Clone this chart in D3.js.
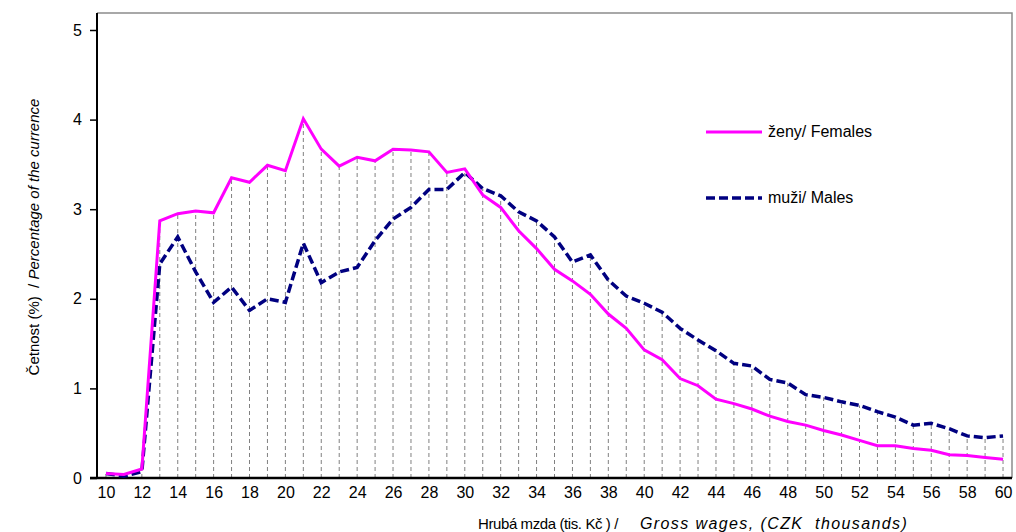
<!DOCTYPE html>
<html>
<head>
<meta charset="utf-8">
<script src="https://cdn.jsdelivr.net/npm/d3@7"></script>
<style>
  html, body { margin: 0; padding: 0; background: #fff; }
  svg { display: block; font-family: "Liberation Sans", Arial, sans-serif; }
</style>
</head>
<body>
<svg id="chart" width="1016" height="532"></svg>
<script>
// ---- data ----
const wages = d3.range(10, 61); // categories 10..60 (CZK thousands)
const females = [0.05, 0.04, 0.10, 2.87, 2.95, 2.98, 2.96, 3.35, 3.30, 3.49,
                 3.43, 4.01, 3.67, 3.48, 3.58, 3.54, 3.67, 3.66, 3.64, 3.41,
                 3.45, 3.16, 3.02, 2.76, 2.56, 2.33, 2.20, 2.05, 1.83, 1.67,
                 1.43, 1.32, 1.11, 1.03, 0.88, 0.83, 0.77, 0.69, 0.63, 0.59,
                 0.53, 0.48, 0.42, 0.36, 0.36, 0.33, 0.31, 0.26, 0.25, 0.23, 0.21];
const males   = [0.05, 0.02, 0.07, 2.39, 2.69, 2.30, 1.96, 2.13, 1.87, 2.00,
                 1.96, 2.62, 2.18, 2.30, 2.35, 2.65, 2.89, 3.02, 3.22, 3.22,
                 3.41, 3.23, 3.15, 2.97, 2.87, 2.69, 2.41, 2.49, 2.21, 2.03,
                 1.95, 1.85, 1.67, 1.54, 1.42, 1.28, 1.25, 1.10, 1.06, 0.93,
                 0.90, 0.85, 0.81, 0.74, 0.68, 0.59, 0.61, 0.55, 0.47, 0.45, 0.47];
const yTicks = [0, 1, 2, 3, 4, 5];
const xTickLabels = d3.range(10, 61, 2);

const svg = d3.select("#chart");
const pL = 97, pR = 1012, pT = 13, pB = 478;

const x = d3.scalePoint().domain(wages).range([pL, pR]).padding(0.5);
const y = d3.scaleLinear().domain([0, 5]).range([pB, 30]);

// frame (top and right gray)
svg.append("path")
  .attr("d", `M${pL},${pT}H${pR}V${pB}`)
  .attr("fill", "none").attr("stroke", "#8c8c8c").attr("stroke-width", 1.5);

// drop lines
svg.append("g").selectAll("line").data(wages).join("line")
  .attr("x1", d => x(d)).attr("x2", d => x(d))
  .attr("y1", pB)
  .attr("y2", (d, i) => y(Math.max(females[i], males[i])))
  .attr("stroke", "#808080").attr("stroke-width", 1)
  .attr("stroke-dasharray", "4,3");

// y axis
const yAxis = svg.append("g").attr("transform", `translate(${pL},0)`)
  .call(d3.axisLeft(y).tickValues(yTicks).tickSize(7).tickPadding(8).tickFormat(d3.format("d")));
yAxis.select(".domain").attr("d", `M0,${pT}V${pB}`).attr("stroke", "#000").attr("stroke-width", 2);
yAxis.selectAll(".tick line").attr("stroke", "#000").attr("stroke-width", 1.5);
yAxis.selectAll(".tick text").attr("font-size", 16).attr("fill", "#000")
  .attr("font-family", "Liberation Sans, Arial, sans-serif");

// x axis
const xAxis = svg.append("g").attr("transform", `translate(0,${pB})`)
  .call(d3.axisBottom(x).tickValues(xTickLabels).tickSize(0).tickPadding(9));
xAxis.select(".domain").attr("d", `M${pL - 7},0H${pR}`).attr("stroke", "#000").attr("stroke-width", 2.5);
xAxis.selectAll(".tick text").attr("font-size", 16).attr("fill", "#000")
  .attr("font-family", "Liberation Sans, Arial, sans-serif");

// lines
const line = arr => d3.line().x((d, i) => x(wages[i])).y(d => y(d))(arr);
svg.append("path").attr("d", line(males))
  .attr("fill", "none").attr("stroke", "#000080").attr("stroke-width", 3.5)
  .attr("stroke-dasharray", "9,4");
svg.append("path").attr("d", line(females))
  .attr("fill", "none").attr("stroke", "#ff00ff").attr("stroke-width", 3);

// legend
const legend = [
  {name: "ženy/ Females", color: "#ff00ff", dash: null, w: 3, yy: 132},
  {name: "muži/ Males", color: "#000080", dash: "9,4", w: 3.5, yy: 198}
];
const lg = svg.append("g");
legend.forEach(l => {
  lg.append("line").attr("x1", 706).attr("x2", 762).attr("y1", l.yy).attr("y2", l.yy)
    .attr("stroke", l.color).attr("stroke-width", l.w)
    .attr("stroke-dasharray", l.dash);
  lg.append("text").attr("x", 768).attr("y", l.yy + 5).attr("font-size", 16)
    .attr("fill", "#000").text(l.name);
});

// x axis title
const xt = svg.append("text").attr("y", 529).attr("font-size", 15).attr("fill", "#000");
xt.append("tspan").attr("x", 478).attr("letter-spacing", -0.4).text("Hrubá mzda (tis. Kč ) /");
xt.append("tspan").attr("x", 640).attr("font-style", "italic").attr("font-size", 16)
  .attr("letter-spacing", 1.4).text("Gross wages, (CZK  thousands)")
  .attr("style", "white-space: pre");

// y axis title
const yt = svg.append("text")
  .attr("transform", "translate(39,237) rotate(-90)")
  .attr("text-anchor", "middle").attr("font-size", 15).attr("fill", "#000")
  .attr("style", "white-space: pre");
yt.append("tspan").text("Četnost (%)  / ");
yt.append("tspan").attr("font-style", "italic").text("Percentage of the currence");
</script>
</body>
</html>
